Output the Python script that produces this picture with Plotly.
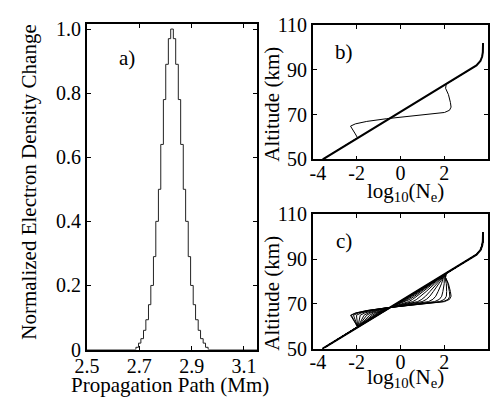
import plotly.graph_objects as go

# ---------------- Panel a data ----------------
path_edges = [2.687, 2.697, 2.706, 2.716, 2.725, 2.735, 2.744, 2.754, 2.763, 2.773,
              2.782, 2.792, 2.801, 2.811, 2.820, 2.830, 2.839, 2.849, 2.858, 2.868,
              2.877, 2.887, 2.896, 2.906, 2.915, 2.925, 2.934, 2.944, 2.953, 2.963]
density_change = [0.007, 0.02, 0.034, 0.06, 0.093, 0.14, 0.20, 0.29, 0.40, 0.50,
                  0.64, 0.78, 0.89, 0.97, 1.0, 0.97, 0.89, 0.78, 0.64, 0.50,
                  0.40, 0.29, 0.20, 0.14, 0.093, 0.06, 0.034, 0.02, 0.007]
path_ticks = [2.5, 2.7, 2.9, 3.1]
path_ticktext = ["2.5", "2.7", "2.9", "3.1"]
change_ticks = [0, 0.2, 0.4, 0.6, 0.8, 1.0]
change_ticktext = ["0", "0.2", "0.4", "0.6", "0.8", "1.0"]

# ---------------- Panels b, c data ----------------
altitude = [50, 55, 59.7, 61.4, 63.5, 64.9, 65.9, 67.0, 68.2, 69.4, 70.6, 71.0, 72.0,
            73.4, 75.5, 79.0, 81.8, 83.7, 86, 88, 90, 92, 94, 96, 98, 100, 102]
ne_ambient = [-3.55, -2.71, -1.93, -1.64, -1.29, -1.05, -0.89, -0.70, -0.50, -0.30,
              -0.10, -0.03, 0.13, 0.37, 0.72, 1.31, 1.78, 2.09, 2.48, 2.81, 3.15,
              3.47, 3.65, 3.73, 3.76, 3.77, 3.77]
ne_perturbed = [-3.55, -2.71, -1.96, -2.06, -2.21, -2.28, -2.06, -1.54, -0.65, 0.53,
                1.72, 2.01, 2.24, 2.31, 2.28, 2.19, 2.06, 2.09, 2.48, 2.81, 3.15,
                3.47, 3.65, 3.73, 3.76, 3.77, 3.77]
ne_ticks = [-4, -2, 0, 2, 4]
ne_ticktext = ["\u00a0\u00a0-4", "-2", "0", "2", "4"]
alt_ticks = [50, 70, 90, 110]

W, H = 491, 405
FONT = "Liberation Serif"

fig = go.Figure()

# Panel a: stair-step curve
xa = [2.5] + path_edges + [3.15]
ya = [0] + density_change + [0, 0]
fig.add_trace(go.Scatter(x=xa, y=ya, mode="lines", line=dict(color="#222", width=1, shape="hv"),
                         xaxis="x", yaxis="y", showlegend=False))

# Panel b: ambient + perturbed profile
fig.add_trace(go.Scatter(x=ne_perturbed, y=altitude, mode="lines", line=dict(color="black", width=1),
                         xaxis="x2", yaxis="y2", showlegend=False))
fig.add_trace(go.Scatter(x=ne_ambient, y=altitude, mode="lines", line=dict(color="black", width=2),
                         xaxis="x2", yaxis="y2", showlegend=False))

# Panel c: profiles scaled by each density-change level along the path
levels = sorted(set(density_change))
for f in levels:
    prof = [a + f * (p - a) for a, p in zip(ne_ambient, ne_perturbed)]
    fig.add_trace(go.Scatter(x=prof, y=altitude, mode="lines", line=dict(color="black", width=1),
                             xaxis="x3", yaxis="y3", showlegend=False))
fig.add_trace(go.Scatter(x=ne_ambient, y=altitude, mode="lines", line=dict(color="black", width=2),
                         xaxis="x3", yaxis="y3", showlegend=False))

tickfont = dict(family=FONT, size=20, color="black")
common = dict(showline=True, linecolor="black", mirror="ticks", ticks="inside", ticklen=4,
              tickwidth=1, tickcolor="black", showgrid=False, zeroline=False, tickfont=tickfont)

def px_x(p):
    return p / W

def px_y(p):
    return 1 - p / H

fig.update_layout(
    width=W, height=H, margin=dict(l=0, r=0, t=0, b=0),
    paper_bgcolor="white", plot_bgcolor="white",
    xaxis=dict(domain=[px_x(76), px_x(250.7)], range=[2.5, 3.15], tickvals=path_ticks,
               ticktext=path_ticktext, anchor="y", linewidth=2, ticklabelstandoff=-3, **common),
    yaxis=dict(domain=[px_y(358), px_y(14)], range=[0, 1.015], tickvals=change_ticks,
               ticktext=change_ticktext, anchor="x", linewidth=2, **common),
    xaxis2=dict(domain=[px_x(308), px_x(488)], range=[-4, 4], tickvals=ne_ticks,
                ticktext=ne_ticktext, anchor="y2", linewidth=1.5, ticklabelstandoff=-5, **common),
    yaxis2=dict(domain=[px_y(157), px_y(15)], range=[50, 110], tickvals=alt_ticks,
                anchor="x2", linewidth=1.5, **common),
    xaxis3=dict(domain=[px_x(308), px_x(488)], range=[-4, 4], tickvals=ne_ticks,
                ticktext=ne_ticktext, anchor="y3", linewidth=1.5, ticklabelstandoff=-5, **common),
    yaxis3=dict(domain=[px_y(357), px_y(215)], range=[50, 110], tickvals=alt_ticks,
                anchor="x3", linewidth=1.5, **common),
)

tf = dict(family=FONT, size=21, color="black")
ann = [
    dict(text="Normalized Electron Density Change", x=px_x(17), y=px_y(181), textangle=-90),
    dict(text="Propagation Path (Mm)", x=px_x(161), y=px_y(395)),
    dict(text="a)", x=px_x(117), y=px_y(50)),
    dict(text="b)", x=px_x(340), y=px_y(43)),
    dict(text="c)", x=px_x(340), y=px_y(243)),
    dict(text="Altitude (km)", x=px_x(266), y=px_y(98), textangle=-90),
    dict(text="Altitude (km)", x=px_x(266), y=px_y(298), textangle=-90),
    dict(text="log<sub>10</sub>(N<sub>e</sub>)", x=px_x(403), y=px_y(191)),
    dict(text="log<sub>10</sub>(N<sub>e</sub>)", x=px_x(403), y=px_y(388)),
]
for a in ann:
    a.update(xref="paper", yref="paper", showarrow=False, font=tf, xanchor="center", yanchor="middle")
fig.update_layout(annotations=ann)

fig.write_html("out.html")
